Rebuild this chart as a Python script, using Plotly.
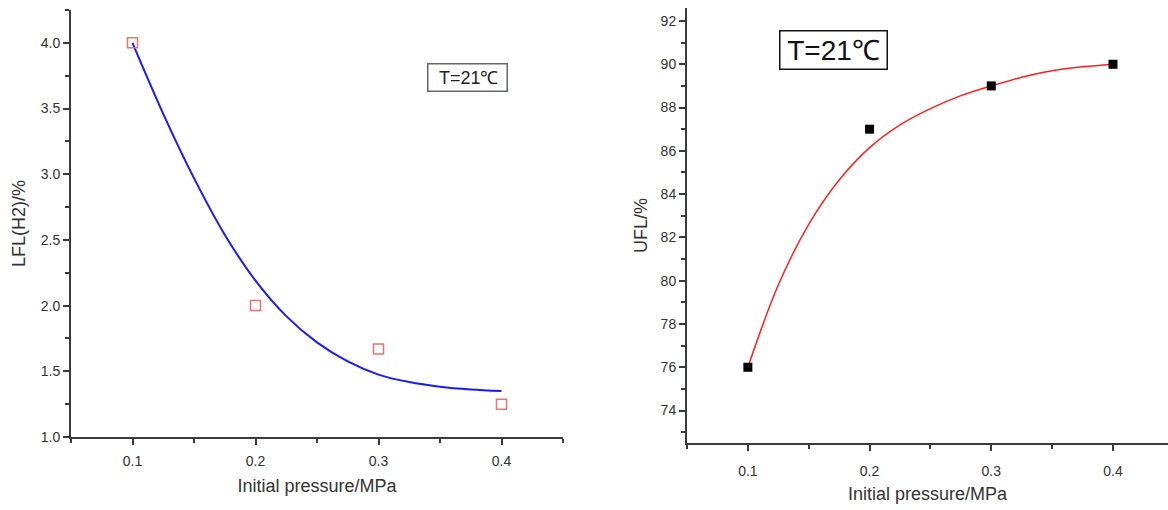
import plotly.graph_objects as go

# Measured points
pressure = [0.1, 0.2, 0.3, 0.4]
lfl_h2 = [4.0, 2.0, 1.67, 1.25]
ufl = [76.0, 87.0, 89.0, 90.0]

# Fitted trend lines, sampled along the pressure axis
fit_pressure = [0.100, 0.125, 0.150, 0.175, 0.200, 0.225, 0.250,
                0.275, 0.300, 0.325, 0.350, 0.375, 0.400]
lfl_fit = [4.00, 3.46, 2.97, 2.54, 2.19, 1.92, 1.72,
           1.575, 1.475, 1.418, 1.383, 1.362, 1.35]
ufl_fit = [76.0, 79.8, 82.6, 84.65, 86.15, 87.2, 87.95,
           88.55, 89.0, 89.4, 89.7, 89.88, 90.0]

x_ticks = [0.1, 0.2, 0.3, 0.4]
x_tick_text = ["0.1", "0.2", "0.3", "0.4"]
lfl_ticks = [1.0, 1.5, 2.0, 2.5, 3.0, 3.5, 4.0]
ufl_ticks = [74, 76, 78, 80, 82, 84, 86, 88, 90, 92]

FONT = "Liberation Sans, Arial, sans-serif"
AXIS = "#3a3a3a"
W, H = 1168, 510

fig = go.Figure()

fig.add_trace(go.Scatter(x=fit_pressure, y=lfl_fit, mode="lines",
                         line=dict(color="#1a1aff", width=2, shape="spline",
                                   smoothing=1.0),
                         xaxis="x", yaxis="y", showlegend=False))
fig.add_trace(go.Scatter(x=pressure, y=lfl_h2, mode="markers",
                         marker=dict(symbol="square-open", size=10,
                                     color="#f07070", line=dict(width=1.5)),
                         xaxis="x", yaxis="y", showlegend=False))

fig.add_trace(go.Scatter(x=fit_pressure, y=ufl_fit, mode="lines",
                         line=dict(color="#ff2020", width=1.5, shape="spline",
                                   smoothing=1.0),
                         xaxis="x2", yaxis="y2", showlegend=False))
fig.add_trace(go.Scatter(x=pressure, y=ufl, mode="markers",
                         marker=dict(symbol="square", size=9, color="black"),
                         xaxis="x2", yaxis="y2", showlegend=False))

common_x = dict(
    tickvals=x_ticks, ticktext=x_tick_text, ticks="outside", ticklen=6,
    tickwidth=1.5, tickcolor=AXIS, showline=True, linecolor=AXIS,
    linewidth=2, showgrid=False, zeroline=False, automargin=False,
    tickfont=dict(family=FONT, size=14, color="#333"),
    minor=dict(dtick=0.05, tick0=0.05, ticks="outside", ticklen=4,
               tickwidth=1.5, tickcolor=AXIS, showgrid=False),
)
common_y = dict(
    ticks="outside", ticklen=6, tickwidth=1.5, tickcolor=AXIS,
    showline=True, linecolor=AXIS, linewidth=2, showgrid=False,
    zeroline=False, automargin=False,
    tickfont=dict(family=FONT, size=14, color="#333"),
)
title_font = dict(family=FONT, size=18, color="#333")

fig.update_layout(
    width=W, height=H,
    margin=dict(l=0, r=0, t=0, b=0),
    paper_bgcolor="white", plot_bgcolor="white",
    xaxis=dict(common_x, domain=[71 / W, 563 / W], range=[0.05, 0.45],
               anchor="y", ticklabelstandoff=4,
               title=dict(text="Initial pressure/MPa", font=title_font,
                          standoff=12)),
    yaxis=dict(common_y, domain=[1 - 437 / H, 1 - 10 / H], range=[1.0, 4.25],
               tickvals=lfl_ticks, ticktext=[f"{v:.1f}" for v in lfl_ticks],
               minor=dict(dtick=0.25, tick0=1.0, ticks="outside", ticklen=4,
                          tickwidth=1.5, tickcolor=AXIS, showgrid=False),
               title=dict(text="LFL(H2)/%", standoff=10, font=title_font),
               anchor="x"),
    xaxis2=dict(common_x, domain=[687 / W, 1.0], range=[0.05, 0.4452],
                anchor="y2", ticklabelstandoff=8,
                title=dict(text="Initial pressure/MPa", font=title_font,
                           standoff=10)),
    yaxis2=dict(common_y, domain=[1 - 443 / H, 1 - 8 / H], range=[72.5, 92.6],
                tickvals=ufl_ticks, ticktext=[str(v) for v in ufl_ticks],
                minor=dict(dtick=1, tick0=72, ticks="outside", ticklen=4,
                           tickwidth=1.5, tickcolor=AXIS, showgrid=False),
                title=dict(text="UFL/%", standoff=8, font=title_font),
                anchor="x2"),
)

fig.add_annotation(xref="paper", yref="paper",
                   x=467 / W, y=1 - 77 / H, xanchor="center",
                   yanchor="middle", text="T=21℃&nbsp;", showarrow=False,
                   width=72, align="right",
                   font=dict(family=FONT, size=18, color="#222"),
                   bordercolor="#666", borderwidth=1.5, borderpad=3,
                   bgcolor="white")
fig.add_annotation(xref="paper", yref="paper",
                   x=833 / W, y=1 - 50 / H, xanchor="center",
                   yanchor="middle", text="T=21℃", showarrow=False,
                   width=100, align="center",
                   font=dict(family=FONT, size=28, color="#111"),
                   bordercolor="#111", borderwidth=1.5, borderpad=3,
                   bgcolor="white")

fig.write_html("out.html")
